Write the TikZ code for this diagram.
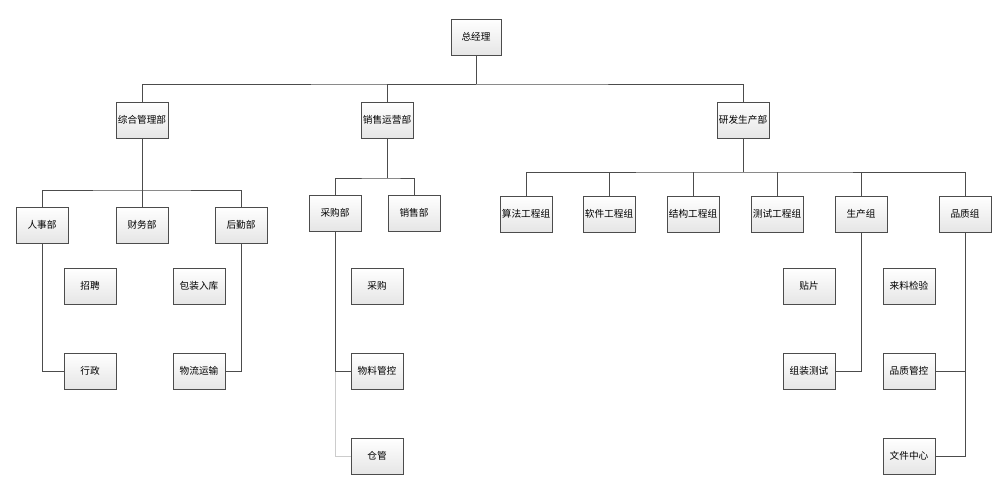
\documentclass[tikz,border=0pt]{standalone}
\usepackage{fontspec}
\setmainfont{Noto Sans CJK SC}
\usetikzlibrary{positioning}
\tikzset{
  orgbox/.style={draw=black!70,top color=white,bottom color=black!10,minimum width=1.04cm,minimum height=0.72cm,inner sep=1pt,font=\fontsize{5.5}{6}\selectfont},
  conn/.style={draw=black!70,line width=0.5pt},
  lightconn/.style={draw=black!20,line width=0.5pt}
}
\begin{document}
\begin{tikzpicture}[x=0.02cm,y=-0.02cm]
 \useasboundingbox (0,0) rectangle (1000,481);
 % top
 \node[orgbox,minimum width=1cm] (ceo) at (476,37) {总经理};
 \node[orgbox] (zh) at (142,120) {综合管理部};
 \node[orgbox] (xs) at (387,120) {销售运营部};
 \node[orgbox] (yf) at (743,120) {研发生产部};
 \coordinate (b1) at (476,84);
 \draw[conn] (ceo) -- (b1);
 \draw[conn] (zh.north) |- (b1) -| (yf.north);
 \draw[conn] (b1) -| (xs.north);
 % zonghe
 \node[orgbox] (rs) at (42,225) {人事部};
 \node[orgbox] (cw) at (142,225) {财务部};
 \node[orgbox] (hq) at (241,225) {后勤部};
 \node[orgbox] (zp) at (90,286) {招聘};
 \node[orgbox] (xz) at (90,371) {行政};
 \node[orgbox] (bz) at (199,286) {包装入库};
 \node[orgbox] (wl) at (199,371) {物流运输};
 \coordinate (b2) at (142,190);
 \draw[conn] (zh) -- (b2);
 \draw[conn] (rs.north) |- (b2) -| (hq.north);
 \draw[conn] (b2) -- (cw);
 \draw[conn] (rs) |- (xz);
 \draw[conn] (hq) |- (wl);
 % xiaoshou
 \node[orgbox] (cg) at (335,213) {采购部};
 \node[orgbox] (xsb) at (414,213) {销售部};
 \node[orgbox] (cgz) at (377,286) {采购};
 \node[orgbox] (wlg) at (377,371) {物料管控};
 \node[orgbox] (cgu) at (377,456) {仓管};
 \coordinate (b3) at (387,178);
 \draw[conn] (xs) -- (b3);
 \draw[conn] (cg.north) |- (b3) -| (xsb.north);
 \draw[lightconn] (cg) |- (cgu);
 \draw[conn] (cg) |- (wlg);
 % yanfa
 \node[orgbox] (sf) at (526,214) {算法工程组};
 \node[orgbox] (rj) at (609,214) {软件工程组};
 \node[orgbox] (jg) at (693,214) {结构工程组};
 \node[orgbox] (cs) at (777,214) {测试工程组};
 \node[orgbox] (sc) at (861,214) {生产组};
 \node[orgbox] (pz) at (965,214) {品质组};
 \node[orgbox] (tp) at (809,286) {贴片};
 \node[orgbox] (zz) at (809,371) {组装测试};
 \node[orgbox] (ll) at (909,286) {来料检验};
 \node[orgbox] (pk) at (909,371) {品质管控};
 \node[orgbox] (wj) at (909,456) {文件中心};
 \coordinate (b4) at (743,172);
 \draw[conn] (yf) -- (b4);
 \draw[conn] (sf.north) |- (b4) -| (pz.north);
 \foreach \n in {rj,jg,cs,sc} \draw[conn] (\n.north) -- (\n.north |- b4);
 \draw[conn] (sc) |- (zz);
 \draw[conn] (pz) |- (wj);
 \draw[conn] (pz.south) |- (pk);
\end{tikzpicture}
\end{document}
